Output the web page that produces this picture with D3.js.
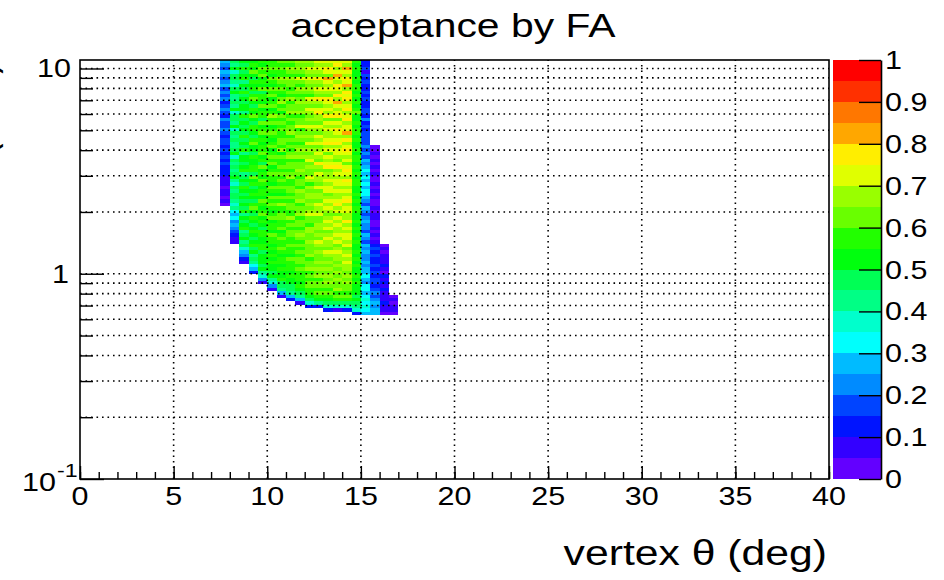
<!DOCTYPE html>
<html>
<head>
<meta charset="utf-8">
<script src="https://cdn.jsdelivr.net/npm/d3@7"></script>
<style>
  html, body { margin: 0; padding: 0; background: #fff; }
  svg { display: block; }
  text { font-family: "Liberation Sans", Arial, Helvetica, sans-serif; fill: #000; }
</style>
</head>
<body>
<svg id="chart" width="944" height="580"></svg>
<script>
// ---- histogram binning ----------------------------------------------------
// theta columns: lower edges (deg), each 0.5 deg wide
const thetaLow = [7.5, 8, 8.5, 9, 9.5, 10, 10.5, 11, 11.5, 12, 12.5, 13, 13.5, 14, 14.5, 15, 15.5, 16, 16.5];
const thetaWidth = 0.5;
// momentum rows: log-uniform between pMin and pMax, row 0 is the top one
const pMin = 0.63, pMax = 11, nRows = 75;
// first filled row of each theta column
const colStartRow = [0, 0, 0, 0, 0, 0, 0, 0, 0, 0, 0, 0, 0, 0, 0, 0, 25, 54, 69];

// acceptance (percent) per theta column, listed from the top row downwards
const acceptance = [
  [27,22,18,26,21,15,24,29,19,23,17,21,14,19,24,16,13,20,18,15,22,17,12,19,16,14,18,13,15,11,16,12,14,10,8,6,9,4,7,5,3,6,2],
  [47,42,51,38,45,49,43,36,48,52,44,40,46,41,50,37,45,48,43,53,39,46,42,49,44,41,47,50,38,45,43,48,40,46,52,44,39,47,42,45,49,41,36,44,33,27,31,22,29,24,19,12,8,5],
  [52,48,55,46,50,57,44,53,49,58,47,51,45,54,50,43,56,48,52,46,53,49,57,45,51,48,55,42,50,54,47,52,56,44,49,53,46,58,50,48,54,45,51,49,56,43,52,47,50,55,44,48,53,41,46,36,29,24,14,7],
  [54,58,50,61,53,47,56,52,59,49,55,62,51,48,57,53,60,50,46,55,58,52,49,56,61,51,54,47,59,53,50,57,55,48,62,52,56,49,54,58,51,47,55,60,53,49,57,52,46,54,58,50,45,53,56,48,51,44,49,42,33,26,11],
  [57,52,60,55,63,50,58,54,61,49,56,59,53,62,51,57,55,48,60,54,58,63,52,56,50,59,55,61,53,57,49,60,54,58,52,62,56,51,59,55,53,60,57,50,55,61,52,58,54,49,56,59,53,51,57,55,48,54,50,52,47,51,44,38,24,9],
  [59,55,62,57,53,64,58,51,60,56,63,54,59,61,52,57,65,55,60,53,58,62,56,51,59,64,54,57,61,55,60,52,58,63,56,59,54,61,57,53,60,55,62,58,52,57,61,54,59,56,53,60,57,55,51,58,54,56,52,55,50,53,48,51,44,39,22,8],
  [61,57,64,59,55,66,60,56,63,58,54,62,65,57,60,53,61,59,64,56,62,58,55,63,60,57,66,54,61,59,56,64,58,62,55,60,57,63,59,54,61,57,65,58,55,62,60,56,59,63,54,58,61,57,55,60,56,53,58,55,52,57,54,50,55,48,45,40,26,9],
  [63,58,66,61,56,68,60,64,57,62,59,67,55,63,60,65,58,61,56,64,60,66,57,62,59,63,55,61,68,58,64,60,57,62,65,59,56,63,61,58,64,57,60,62,56,59,65,58,61,55,63,60,57,59,62,56,58,54,60,57,55,59,53,56,52,54,49,46,41,28,10],
  [65,60,68,62,58,70,63,59,66,61,57,64,69,60,62,67,58,63,61,72,59,64,66,60,57,63,68,61,65,58,62,60,67,63,59,64,61,56,66,62,60,65,58,63,61,67,59,62,64,57,61,66,60,58,63,59,62,57,60,64,56,61,58,55,59,54,57,52,48,43,27,9],
  [68,63,71,65,60,74,66,62,69,64,58,72,67,61,70,65,63,68,60,73,66,62,69,64,71,60,67,63,65,70,61,68,64,62,72,66,59,67,63,69,65,61,68,63,66,70,62,64,59,67,65,61,63,68,60,64,62,66,58,63,61,65,59,62,57,60,63,56,58,53,49,38,11],
  [70,65,74,67,62,77,69,64,72,66,60,75,68,63,71,79,65,69,62,73,67,64,70,66,74,61,68,72,65,63,76,67,62,70,66,69,64,71,60,68,66,63,70,65,68,72,64,61,67,69,63,66,62,70,65,61,67,64,60,66,63,68,61,65,59,64,62,58,61,55,50,40,12],
  [72,67,76,70,64,81,71,66,74,69,63,78,70,65,73,68,75,62,71,67,74,69,65,72,77,66,70,64,73,68,71,75,63,69,67,72,66,74,70,64,68,73,65,71,67,62,69,74,66,70,64,68,72,65,67,63,70,66,61,68,64,69,62,66,60,65,63,59,62,57,52,46,39,10],
  [71,76,68,74,82,70,65,77,72,67,75,69,80,73,66,71,76,64,72,68,75,70,67,73,78,66,71,74,69,63,72,76,68,70,65,74,71,67,73,69,66,72,75,68,70,64,73,67,71,65,69,74,66,70,63,68,72,65,67,62,69,64,66,61,68,63,60,65,58,62,55,48,37,9],
  [74,69,81,72,66,78,71,84,68,75,70,77,65,73,79,68,72,76,67,74,70,82,69,75,66,73,77,71,68,74,64,72,76,70,67,79,72,66,74,69,71,75,67,70,73,65,69,76,68,72,66,71,74,67,70,64,69,73,66,70,65,68,63,67,61,66,62,64,59,63,56,49,38,11],
  [56,52,58,54,51,57,53,59,55,50,56,53,58,52,55,60,54,51,57,53,55,58,52,56,54,50,57,53,59,55,51,56,54,58,52,55,57,53,50,56,54,58,52,55,57,53,51,56,54,59,52,55,53,57,50,54,56,52,55,53,57,51,54,56,52,55,50,53,51,48,52,46,43,37,14],
  [14,11,18,9,15,12,17,13,10,19,14,16,11,13,18,15,12,20,14,17,13,16,19,15,18,21,17,24,19,26,22,28,31,25,33,29,32,27,34,30,26,23,19,25,21,18,24,27,20,22,17,26,23,19,25,21,28,24,20,26,22,29,25,31,27,24,30,33,28,32,35,31,36,33,29],
  [4,2,6,3,7,1,5,3,8,2,4,6,3,5,2,7,4,3,6,2,5,8,3,4,6,2,5,3,7,12,15,11,17,13,10,16,14,19,12,15,18,13,16,20,17,23,27,22,29,25],
  [4,7,3,6,9,5,11,8,4,13,7,10,6,12,9,5,8,11,6,9,4],
  [3,6,4,7,5,2]
];

// ---- axes ------------------------------------------------------------------
const xMajorTicks = [0, 5, 10, 15, 20, 25, 30, 35, 40];
const xMinorTicks = d3.range(0, 41, 1);
const yMajorTicks = [0.1, 1, 10];
const yMinorTicks = [0.2, 0.3, 0.4, 0.5, 0.6, 0.7, 0.8, 0.9, 2, 3, 4, 5, 6, 7, 8, 9];
const zTicks = [0, 0.1, 0.2, 0.3, 0.4, 0.5, 0.6, 0.7, 0.8, 0.9, 1];
const zTickLabels = ["0", "0.1", "0.2", "0.3", "0.4", "0.5", "0.6", "0.7", "0.8", "0.9", "1"];
const titleText = "acceptance by FA";
const xTitleText = "vertex \u03b8 (deg)";
const yTitleText = "momentum (GeV)";

// 20-step rainbow palette (violet -> red), hue per contour band
const paletteHue = [263.2, 252, 235.2, 224, 207.2, 196, 179.2, 168, 151.2, 140,
                    123.2, 112, 95.2, 84, 67.2, 56, 39.2, 28, 11.2, 0];

// ---- layout ----------------------------------------------------------------
const frame = { left: 80, right: 829, top: 60, bottom: 479 };
const bar = { left: 833, right: 881 };
const SX = 1.22;              // horizontal stretch of all lettering

const svg = d3.select("#chart");
const x = d3.scaleLinear().domain([0, 40]).range([frame.left, frame.right]);
const y = d3.scaleLog().domain([0.1, 11]).range([frame.bottom, frame.top]);
const z = d3.scaleLinear().domain([0, 1]).range([frame.bottom, frame.top]);
const bandColour = j => d3.hsl(paletteHue[j], 1, 0.5).formatHex();
const valueColour = v => bandColour(Math.min(19, Math.floor(v / 5)));
const rowEdge = k => pMax * Math.pow(pMin / pMax, k / nRows);

function label(parent, px, py, str, size, anchor, extra) {
  return parent.append("text")
    .attr("transform", `translate(${px},${py}) scale(${SX},1)` + (extra || ""))
    .attr("font-size", size)
    .attr("text-anchor", anchor)
    .text(str);
}

// ---- heat map cells ----------------------------------------------------------
const cells = [];
acceptance.forEach((col, i) => {
  col.forEach((v, r) => {
    const k = colStartRow[i] + r;
    cells.push({ t0: thetaLow[i], t1: thetaLow[i] + thetaWidth, pHi: rowEdge(k), pLo: rowEdge(k + 1), v });
  });
});

svg.append("clipPath").attr("id", "frameClip")
  .append("rect")
  .attr("x", frame.left).attr("y", frame.top)
  .attr("width", frame.right - frame.left).attr("height", frame.bottom - frame.top);

svg.append("g").attr("clip-path", "url(#frameClip)")
  .selectAll("rect").data(cells).join("rect")
  .attr("x", d => x(d.t0))
  .attr("y", d => y(d.pHi))
  .attr("width", d => x(d.t1) - x(d.t0))
  .attr("height", d => y(d.pLo) - y(d.pHi))
  .attr("fill", d => valueColour(d.v))
  .attr("shape-rendering", "crispEdges");

// ---- dotted grid -------------------------------------------------------------
const grid = svg.append("g")
  .attr("stroke", "#000").attr("stroke-width", 1.6).attr("stroke-dasharray", "1.6,3.9");
grid.selectAll("line.gx").data(xMajorTicks.filter(t => t > 0 && t < 40)).join("line")
  .attr("class", "gx")
  .attr("x1", d => x(d)).attr("x2", d => x(d))
  .attr("y1", frame.bottom).attr("y2", frame.top);
grid.selectAll("line.gy").data(yMinorTicks.concat([1, 10])).join("line")
  .attr("class", "gy")
  .attr("x1", frame.left).attr("x2", frame.right)
  .attr("y1", d => y(d)).attr("y2", d => y(d));

// ---- tick marks (inside the frame) -------------------------------------------
function ticks(axis, tx, ty) {
  const g = svg.append("g").attr("transform", `translate(${tx},${ty})`).call(axis);
  g.select(".domain").remove();
  g.selectAll("line").attr("stroke", "#000").attr("stroke-width", 1.4);
  g.selectAll("text").remove();
  return g;
}
ticks(d3.axisBottom(x).tickValues(xMinorTicks).tickSize(-7).tickSizeOuter(0), 0, frame.bottom);
ticks(d3.axisBottom(x).tickValues(xMajorTicks).tickSize(-13).tickSizeOuter(0), 0, frame.bottom);
ticks(d3.axisRight(y).tickValues(yMinorTicks).tickSize(13).tickSizeOuter(0), frame.left, 0);
ticks(d3.axisRight(y).tickValues(yMajorTicks).tickSize(24).tickSizeOuter(0), frame.left, 0);

// ---- frame -------------------------------------------------------------------
svg.append("rect")
  .attr("x", frame.left).attr("y", frame.top)
  .attr("width", frame.right - frame.left).attr("height", frame.bottom - frame.top)
  .attr("fill", "none").attr("stroke", "#000").attr("stroke-width", 1.6);

// ---- tick labels -------------------------------------------------------------
const labels = svg.append("g");
xMajorTicks.forEach(t => label(labels, x(t), 505, String(t), 25, "middle"));
label(labels, 71, y(10) + 9, "10", 25, "end");
label(labels, 69, y(1) + 9, "1", 25, "end");
label(labels, 56, 491, "10", 25, "end");
label(labels, 57, 477, "-1", 19, "start");

// ---- colour bar --------------------------------------------------------------
const bands = d3.range(20);
svg.append("g").selectAll("rect").data(bands).join("rect")
  .attr("x", bar.left)
  .attr("width", bar.right - bar.left)
  .attr("y", j => z((j + 1) * 0.05))
  .attr("height", j => z(j * 0.05) - z((j + 1) * 0.05))
  .attr("fill", j => bandColour(j))
  .attr("shape-rendering", "crispEdges");

const zAxis = svg.append("g").attr("transform", `translate(${bar.right},0)`)
  .call(d3.axisLeft(z).tickValues(zTicks).tickSize(22).tickSizeOuter(0));
zAxis.selectAll("text").remove();
zAxis.selectAll("line").attr("stroke", "#000").attr("stroke-width", 1.4);
zAxis.select(".domain").attr("stroke", "#000").attr("stroke-width", 1.6);
zTicks.forEach((t, i) => label(labels, 885, z(t) + 9, zTickLabels[i], 25, "start"));

// ---- titles ------------------------------------------------------------------
label(svg, 453, 37, titleText, 33.5, "middle");
label(svg, 827, 565, xTitleText, 35, "end");
label(svg, -6, 62, yTitleText, 35, "end", " rotate(-90)");
</script>
</body>
</html>
